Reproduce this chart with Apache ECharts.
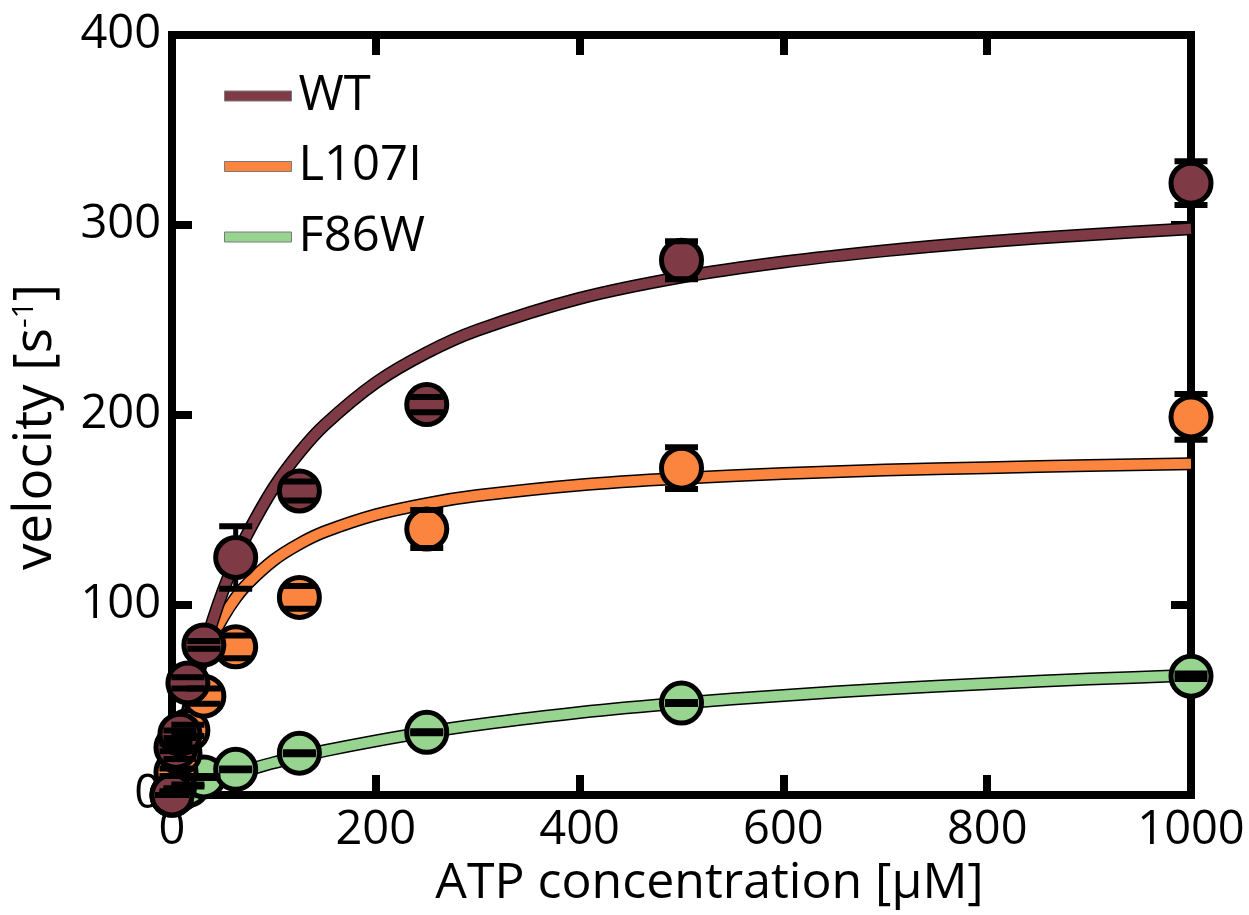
<!DOCTYPE html>
<html>
<head>
<meta charset="utf-8">
<script src="https://cdn.jsdelivr.net/npm/echarts@6/dist/echarts.min.js"></script>
<style>
html,body{margin:0;padding:0;background:#fff;}
#chart{width:1249px;height:915px;}
</style>
</head>
<body>
<div id="chart"></div>
<script>
// ---- data ----
const seriesNames = ['WT', 'L107I', 'F86W'];
const colors = ['#7E3B45', '#FB843F', '#96D48F'];

// measured ATP concentrations (µM)
const concentrations = [0, 3.9, 7.8, 15.6, 31.25, 62.5, 125, 250, 500, 1000];
const wtMeans    = [0, 25, 32, 59, 79, 125, 160, 205.5, 281.5, 322];
const wtErrors   = [0, 2, 2, 3, 2, 16.5, 5, 4, 10, 11.5];
const l107iMeans = [0, 12, 22, 34, 52, 78, 104, 140, 172, 199];
const l107iErrors= [0, 2, 3, 3, 4, 6, 6, 10, 11, 12];
const f86wMeans  = [0, 1.5, 3, 5, 9.5, 13.5, 22, 33, 48.4, 62.5];
const f86wErrors = [0, 0.5, 0.5, 0.5, 0.5, 0.5, 0.5, 0.5, 0.5, 1.5];

// fitted curves at these concentrations
const fitX    = [0, 5, 10, 15, 20, 30, 40, 50, 62.5, 75, 100, 125, 150, 200, 250, 300, 400, 500, 600, 700, 800, 900, 1000];
const wtFit   = [0, 15.2, 29.1, 41.8, 53.4, 74.1, 91.9, 107.4, 124.1, 138.5, 161.9, 180.2, 194.9, 217.0, 232.8, 244.7, 261.4, 272.6, 280.5, 286.5, 291.2, 294.9, 298.0];
const l107iFit= [0, 17.4, 31.7, 43.8, 54.0, 70.6, 83.4, 93.5, 103.7, 111.7, 123.7, 132.2, 138.6, 147.5, 153.4, 157.6, 163.2, 166.7, 169.2, 171.0, 172.3, 173.4, 174.3];
const f86wFit = [0, 1.0, 2.0, 3.0, 4.0, 5.9, 7.6, 9.4, 11.4, 13.3, 17.0, 20.2, 23.3, 28.5, 33.1, 37.0, 43.4, 48.4, 52.4, 55.8, 58.6, 61.0, 63.0];

const xTicks = {min: 0, max: 1000, interval: 200};
const yTicks = {min: 0, max: 400, interval: 100};
const xTitle = 'ATP concentration [μM]';

// ---- build ----
const FONT = 'Open Sans';
const means = [wtMeans, l107iMeans, f86wMeans];
const errs = [wtErrors, l107iErrors, f86wErrors];
const fits = [wtFit, l107iFit, f86wFit];

const chart = echarts.init(document.getElementById('chart'), null, {renderer: 'canvas'});

const axisCommon = {
  axisLine: {show: true, onZero: false, lineStyle: {color: '#000', width: 8, cap: 'square'}},
  axisTick: {show: true, inside: true, length: 20, lineStyle: {color: '#000', width: 8}},
  splitLine: {show: false}
};

const series = [];
const order = [2, 1, 0]; // green at the bottom, WT on top
// curves: black outline then colour
order.forEach(i => {
  const d = fitX.map((x, k) => [x, fits[i][k]]);
  series.push({
    type: 'line', name: seriesNames[i] + '_outline', data: d, symbol: 'none',
    smooth: 0.3,
    clip: false, silent: true, z: 2,
    lineStyle: {color: '#000', width: 13, cap: 'butt', join: 'round'}
  });
  series.push({
    type: 'line', name: seriesNames[i], data: d, symbol: 'none',
    smooth: 0.3,
    clip: false, silent: true, z: 2,
    color: colors[i],
    lineStyle: {color: colors[i], width: 10, cap: 'butt', join: 'round'}
  });
});
// error bar stems
order.forEach(i => {
  const d = concentrations.map((x, k) => [x, means[i][k], errs[i][k]]);
  series.push({
    type: 'custom', name: seriesNames[i] + '_stem', data: d, z: 3, silent: true,
    renderItem: (params, api) => {
      const x = api.value(0), y = api.value(1), e = api.value(2);
      const p1 = api.coord([x, y + e]), p2 = api.coord([x, y - e]);
      return {type: 'line', shape: {x1: p1[0], y1: p1[1], x2: p2[0], y2: p2[1]},
              style: {stroke: '#000', lineWidth: 5}};
    }
  });
});
// markers
order.forEach(i => {
  const d = concentrations.map((x, k) => [x, means[i][k]]);
  series.push({
    type: 'scatter', name: seriesNames[i] + '_pts', data: d, z: 4, clip: false, silent: true,
    symbol: 'circle', symbolSize: 40,
    itemStyle: {color: colors[i], borderColor: '#000', borderWidth: 5, opacity: 1}
  });
});
// error bar caps
order.forEach(i => {
  const d = concentrations.map((x, k) => [x, means[i][k], errs[i][k]]);
  series.push({
    type: 'custom', name: seriesNames[i] + '_cap', data: d, z: 5, silent: true,
    renderItem: (params, api) => {
      const x = api.value(0), y = api.value(1), e = api.value(2);
      const p1 = api.coord([x, y + e]), p2 = api.coord([x, y - e]);
      const w = 33, h = 6;
      return {type: 'group', children: [
        {type: 'rect', shape: {x: p1[0] - w / 2, y: p1[1] - h / 2, width: w, height: h}, style: {fill: '#000'}},
        {type: 'rect', shape: {x: p2[0] - w / 2, y: p2[1] - h / 2, width: w, height: h}, style: {fill: '#000'}}
      ]};
    }
  });
});

const option = {
  backgroundColor: '#fff',
  animation: false,
  textStyle: {fontFamily: FONT},
  grid: {left: 172, right: 58, top: 35, bottom: 120, containLabel: false},
  legend: {
    orient: 'vertical', left: 219, top: 66, itemWidth: 67, itemHeight: 10, itemGap: 20.5,
    icon: 'rect',
    data: seriesNames.map((n, i) => ({name: n, icon: 'rect',
      itemStyle: {color: colors[i], borderColor: '#7a7a7a', borderWidth: 1}})),
    textStyle: {fontFamily: FONT, fontSize: 49, color: '#000', lineHeight: 50, padding: [0, 0, 0, 2]},
    selectedMode: false
  },
  xAxis: [
    Object.assign({}, axisCommon, {
      type: 'value', position: 'bottom', min: xTicks.min, max: xTicks.max, interval: xTicks.interval,
      name: xTitle, nameLocation: 'middle', nameGap: 58,
      nameTextStyle: {fontFamily: FONT, fontSize: 50, color: '#000', padding: [0, 0, 0, 56]},
      axisLabel: {show: true, fontFamily: FONT, fontSize: 47, color: '#000', margin: 12,
                  formatter: v => String(v)}
    }),
    Object.assign({}, axisCommon, {
      type: 'value', position: 'top', min: xTicks.min, max: xTicks.max, interval: xTicks.interval,
      axisLabel: {show: false}
    })
  ],
  yAxis: [
    Object.assign({}, axisCommon, {
      type: 'value', position: 'left', min: yTicks.min, max: yTicks.max, interval: yTicks.interval,
      name: '{a|velocity [s}{s|-1}{a|]}', nameLocation: 'middle', nameGap: 110, nameRotate: 90,
      nameTextStyle: {fontFamily: FONT, fontSize: 53, color: '#000', padding: [0, 24, 0, 0],
        rich: {a: {fontFamily: FONT, fontSize: 53, color: '#000'},
               s: {fontFamily: FONT, fontSize: 30, color: '#000', verticalAlign: 'top', padding: [0, 0, 20, 0]}}},
      axisLabel: {show: true, fontFamily: FONT, fontSize: 47, color: '#000', margin: 11,
                  formatter: v => String(v)}
    }),
    Object.assign({}, axisCommon, {
      type: 'value', position: 'right', min: yTicks.min, max: yTicks.max, interval: yTicks.interval,
      axisLabel: {show: false}
    })
  ],
  series: series
};
chart.setOption(option);
</script>
</body>
</html>
